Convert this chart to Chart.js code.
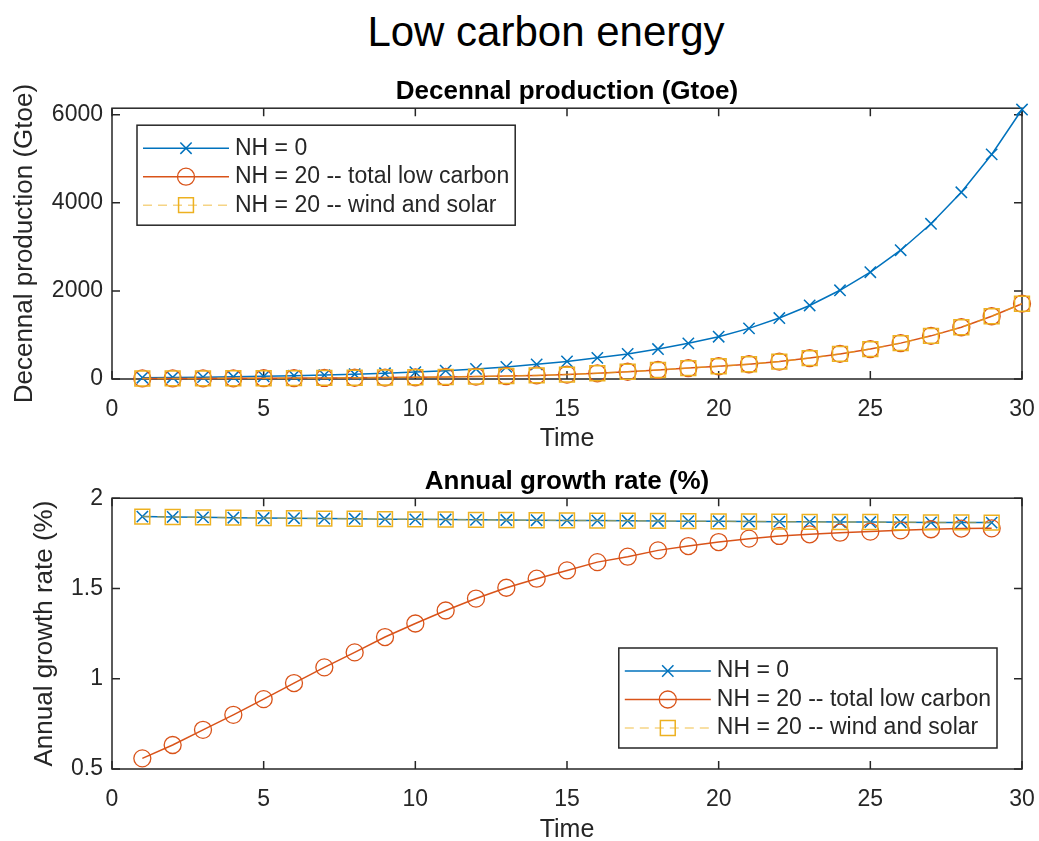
<!DOCTYPE html>
<html>
<head>
<meta charset="utf-8">
<title>Low carbon energy</title>
<script src="https://cdn.jsdelivr.net/npm/chart.js@4.4.0/dist/chart.umd.min.js"></script>
<style>
    html, body { margin: 0; padding: 0; background: #fff; overflow: hidden; }
    #page { position: relative; width: 1039px; height: 841px; }
    #mainTitle {
        position: absolute; left: 346px; top: 7px; width: 400px;
        text-align: center; font: 42px 'Liberation Sans', Arial, sans-serif;
        line-height: 50px; color: #000;
    }
    canvas { position: absolute; left: 0; }
    #prodChart { top: 58px; }
    #rateChart { top: 455px; }
</style>
</head>
<body>
<div id="page">
    <div id="mainTitle">Low carbon energy</div>
    <canvas id="prodChart" width="1039" height="396"></canvas>
    <canvas id="rateChart" width="1039" height="390"></canvas>
</div>
<script>
// ---- data ----
const seriesLabels = ["NH = 0", "NH = 20 -- total low carbon", "NH = 20 -- wind and solar"];

const prodTime = [1, 2, 3, 4, 5, 6, 7, 8, 9, 10, 11, 12, 13, 14, 15,
                  16, 17, 18, 19, 20, 21, 22, 23, 24, 25, 26, 27, 28, 29, 30];
const prodNH0 = [29, 35, 42, 51, 61, 74, 89, 108, 130, 157, 189, 228, 275, 333, 400,
                 480, 570, 680, 810, 960, 1150, 1385, 1670, 2015, 2425, 2925, 3525, 4240, 5100, 6120];
const prodLowCarbon = [12, 13, 14, 16, 18, 21, 24, 28, 33, 39, 46, 55, 68, 82, 100,
                       130, 165, 205, 248, 290, 335, 395, 475, 570, 680, 815, 980, 1175, 1425, 1710];
const prodWindSolar = [12, 13, 14, 16, 18, 21, 24, 28, 33, 39, 46, 55, 68, 82, 100,
                       130, 165, 205, 248, 290, 335, 395, 475, 570, 680, 815, 980, 1175, 1425, 1710];
const prodRangeY = [0, 6150];
const prodTicksY = [0, 2000, 4000, 6000];

const rateTime = [1, 2, 3, 4, 5, 6, 7, 8, 9, 10, 11, 12, 13, 14, 15,
                  16, 17, 18, 19, 20, 21, 22, 23, 24, 25, 26, 27, 28, 29];
const rateNH0 = [1.898, 1.896, 1.894, 1.892, 1.890, 1.889, 1.887, 1.886, 1.884, 1.883,
                 1.882, 1.880, 1.879, 1.878, 1.877, 1.876, 1.875, 1.874, 1.873, 1.872,
                 1.871, 1.870, 1.869, 1.868, 1.868, 1.867, 1.866, 1.866, 1.865];
const rateLowCarbon = [0.559, 0.633, 0.717, 0.800, 0.887, 0.976, 1.063, 1.146, 1.231, 1.306,
                       1.378, 1.444, 1.504, 1.554, 1.600, 1.646, 1.676, 1.711, 1.735, 1.757,
                       1.776, 1.791, 1.800, 1.809, 1.815, 1.822, 1.828, 1.832, 1.833];
const rateWindSolar = [1.898, 1.896, 1.894, 1.892, 1.890, 1.889, 1.887, 1.886, 1.884, 1.883,
                       1.882, 1.880, 1.879, 1.878, 1.877, 1.876, 1.875, 1.874, 1.873, 1.872,
                       1.871, 1.870, 1.869, 1.868, 1.868, 1.867, 1.866, 1.866, 1.865];
const rateRangeY = [0.5, 2];
const rateTicksY = [0.5, 1, 1.5, 2];

const timeRange = [0, 30];
const timeTicks = [0, 5, 10, 15, 20, 25, 30];

const FONT = "'Liberation Sans', Arial, sans-serif";
const INK = "#262626";
Chart.defaults.font.family = FONT;
Chart.defaults.color = INK;

function pts(xs, ys) {
    return xs.map((x, i) => ({ x: x, y: ys[i] }));
}

// axes box with inward ticks on all four sides (MATLAB look)
const matlabBox = {
    id: "matlabBox",
    beforeDatasetsDraw(chart) {
        const { ctx, chartArea: a, scales: { x, y } } = chart;
        const len = 8;
        ctx.save();
        ctx.strokeStyle = INK;
        ctx.lineWidth = 1.5;
        ctx.strokeRect(a.left, a.top, a.width, a.height);
        ctx.beginPath();
        x.ticks.forEach(t => {
            const px = x.getPixelForValue(t.value);
            ctx.moveTo(px, a.bottom); ctx.lineTo(px, a.bottom - len);
            ctx.moveTo(px, a.top); ctx.lineTo(px, a.top + len);
        });
        y.ticks.forEach(t => {
            const py = y.getPixelForValue(t.value);
            ctx.moveTo(a.left, py); ctx.lineTo(a.left + len, py);
            ctx.moveTo(a.right, py); ctx.lineTo(a.right - len, py);
        });
        ctx.stroke();
        ctx.restore();
    }
};

// boxed legend inside the axes, line sample + marker like MATLAB
const boxLegend = {
    id: "boxLegend",
    afterDatasetsDraw(chart, args, opts) {
        const { ctx, chartArea: a } = chart;
        const sets = chart.data.datasets;
        ctx.save();
        ctx.font = "23px " + FONT;
        const textW = Math.max(...sets.map(d => ctx.measureText(d.label).width));
        const w = 98 + textW + 6, h = 100;
        const left = opts.corner === "tl" ? a.left + opts.dx : a.right - opts.dx - w;
        const top = opts.corner === "tl" ? a.top + opts.dy : a.bottom - opts.dy - h;
        ctx.fillStyle = "#fff";
        ctx.fillRect(left, top, w, h);
        ctx.strokeStyle = INK;
        ctx.lineWidth = 1.5;
        ctx.strokeRect(left, top, w, h);
        sets.forEach((d, i) => {
            const cy = top + 23 + i * 28.5;
            ctx.strokeStyle = d.borderColor;
            ctx.lineWidth = d.borderWidth;
            ctx.setLineDash(d.borderDash || []);
            ctx.beginPath();
            ctx.moveTo(left + 6, cy);
            ctx.lineTo(left + 92, cy);
            ctx.stroke();
            ctx.setLineDash([]);
            ctx.strokeStyle = d.pointBorderColor;
            ctx.fillStyle = "rgba(0,0,0,0)";
            ctx.lineWidth = d.pointBorderWidth;
            Chart.helpers.drawPoint(ctx, {
                pointStyle: d.pointStyle, radius: d.pointRadius,
                borderWidth: d.pointBorderWidth, rotation: 0
            }, left + 49, cy);
            ctx.fillStyle = INK;
            ctx.textBaseline = "middle";
            ctx.textAlign = "left";
            ctx.fillText(d.label, left + 98, cy);
        });
        ctx.restore();
    }
};

function makeDatasets(xs, a, b, c) {
    return [{
        label: seriesLabels[0],
        data: pts(xs, a),
        borderColor: "#0072BD",
        borderWidth: 1.5,
        pointStyle: "crossRot",
        pointRadius: 8,
        pointBorderColor: "#0072BD",
        pointBackgroundColor: "rgba(0,0,0,0)",
        pointBorderWidth: 1.5,
        order: 3
    }, {
        label: seriesLabels[1],
        data: pts(xs, b),
        borderColor: "#D95319",
        borderWidth: 1.5,
        pointStyle: "circle",
        pointRadius: 8.5,
        pointBorderColor: "#D95319",
        pointBackgroundColor: "rgba(0,0,0,0)",
        pointBorderWidth: 1.3,
        order: 2
    }, {
        label: seriesLabels[2],
        data: pts(xs, c),
        borderColor: "rgba(237,177,32,0.55)",
        borderWidth: 1.5,
        borderDash: [9, 6],
        pointStyle: "rect",
        pointRadius: 10.5,
        pointBorderColor: "#EDB120",
        pointBackgroundColor: "rgba(0,0,0,0)",
        pointBorderWidth: 1.5,
        order: 1
    }];
}

function makeOptions(cfg) {
    return {
        responsive: false,
        devicePixelRatio: 1,
        animation: false,
        events: [],
        clip: false,
        layout: { padding: { left: 0, right: 17, top: 0, bottom: 0 } },
        elements: { line: { tension: 0 } },
        plugins: {
            legend: { display: false },
            tooltip: { enabled: false },
            title: {
                display: true,
                fullSize: false,
                text: cfg.title,
                color: "#000",
                font: { size: 26, weight: "bold" },
                padding: cfg.titlePad
            },
            boxLegend: cfg.legend
        },
        scales: {
            x: {
                type: "linear",
                min: timeRange[0], max: timeRange[1],
                ticks: { font: { size: 23 }, padding: 17, maxRotation: 0, color: INK },
                grid: { display: false, drawTicks: false },
                border: { display: false },
                title: { display: true, text: "Time", font: { size: 25 }, color: INK, padding: { top: 0, bottom: cfg.timePad } },
                afterBuildTicks(scale) { scale.ticks = timeTicks.map(v => ({ value: v })); },
                afterFit(scale) {
                    scale.height = cfg.xHeight;
                    scale.paddingLeft = 0;
                    scale.paddingRight = 0;
                }
            },
            y: {
                min: cfg.yRange[0], max: cfg.yRange[1],
                ticks: {
                    font: { size: 23 }, padding: 9, color: INK,
                    callback: v => String(v)
                },
                grid: { display: false, drawTicks: false },
                border: { display: false },
                title: { display: true, text: cfg.yTitle, font: { size: 26 }, color: INK, padding: { top: cfg.yTitlePad, bottom: 0 } },
                afterBuildTicks(scale) { scale.ticks = cfg.yTicks.map(v => ({ value: v })); },
                afterFit(scale) {
                    scale.width = 112;
                    scale.paddingTop = 0;
                    scale.paddingBottom = 0;
                }
            }
        }
    };
}

// Decennal production chart
new Chart(document.getElementById("prodChart"), {
    type: "line",
    data: { datasets: makeDatasets(prodTime, prodNH0, prodLowCarbon, prodWindSolar) },
    options: makeOptions({
        title: "Decennal production (Gtoe)",
        titlePad: { top: 18, bottom: 1 },
        yTitle: "Decennal production (Gtoe)",
        yTitlePad: 9,
        yRange: prodRangeY,
        yTicks: prodTicksY,
        xHeight: 75,
        timePad: 0,
        legend: { corner: "tl", dx: 25, dy: 17 }
    }),
    plugins: [matlabBox, boxLegend]
});

// Annual growth rate chart
new Chart(document.getElementById("rateChart"), {
    type: "line",
    data: { datasets: makeDatasets(rateTime, rateNH0, rateLowCarbon, rateWindSolar) },
    options: makeOptions({
        title: "Annual growth rate (%)",
        titlePad: { top: 11, bottom: 1 },
        yTitle: "Annual growth rate (%)",
        yTitlePad: 29,
        yRange: rateRangeY,
        yTicks: rateTicksY,
        xHeight: 76,
        timePad: 0,
        legend: { corner: "br", dx: 25, dy: 21 }
    }),
    plugins: [matlabBox, boxLegend]
});
</script>
</body>
</html>
